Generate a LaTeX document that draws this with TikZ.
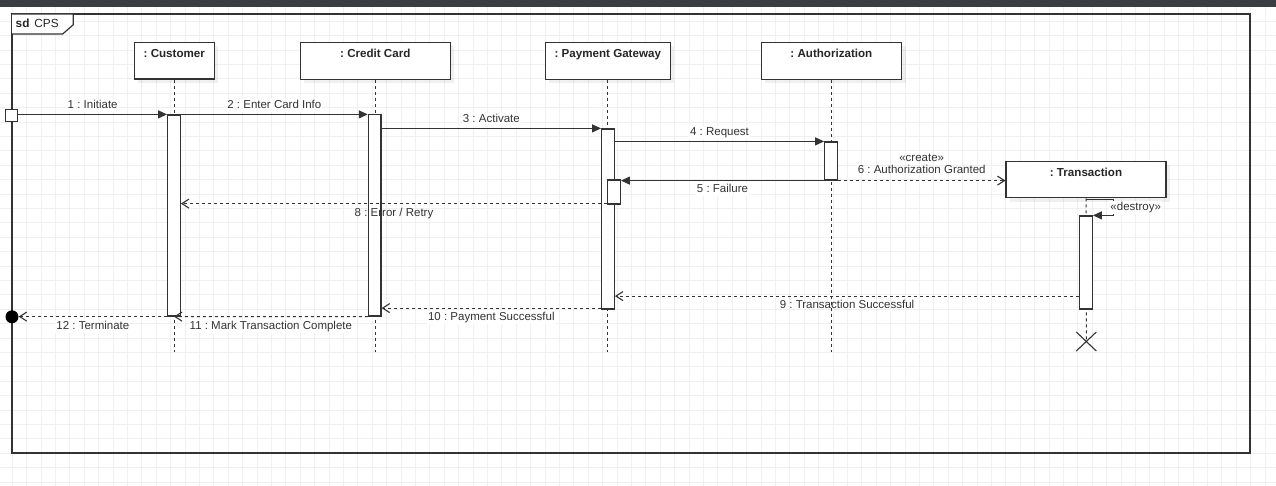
\documentclass[tikz,border=0pt]{standalone}
\usepackage{fontspec}
\setmainfont{Liberation Sans}
\usetikzlibrary{arrows.meta,shapes.misc,shadows}
\frenchspacing

\definecolor{ink}{HTML}{333333}
\definecolor{gridln}{HTML}{F0F0F0}
\definecolor{topbar}{HTML}{3A3D41}

\tikzset{
  gridline/.style={draw=gridln, line width=1pt},
  head/.style={rectangle, draw=ink, line width=1.1pt, fill=white, minimum height=36.7pt,
    inner xsep=2pt, inner ysep=6.8pt, text height=8.4pt, text depth=14.7pt, text=black!85,
    font=\fontsize{11.6}{13}\selectfont\bfseries,
    drop shadow={shadow xshift=4pt, shadow yshift=-4pt, opacity=0.06, fill=black}},
  bar/.style={rectangle, draw=ink, line width=1.2pt, fill=white, minimum width=12.7pt, inner sep=0pt},
  life/.style={draw=ink, line width=1pt, dash pattern=on 3pt off 3pt},
  sync/.style={draw=ink, line width=1.2pt, -{Triangle[length=9pt,width=8pt]}},
  reply/.style={draw=ink, line width=1.1pt, dash pattern=on 3pt off 3pt, -{Straight Barb[length=7pt,width=9pt]}},
  lbl/.style={font=\fontsize{11.5}{12.6}\selectfont, text=ink, text height=8.5pt, text depth=2.5pt, inner sep=1pt},
  lbltwo/.style={font=\fontsize{11.5}{12.6}\selectfont, text=ink, inner sep=1pt, align=center}
}

\begin{document}
\begin{tikzpicture}[x=1pt,y=-1pt]
    \useasboundingbox (0,0) rectangle (1276,486);
    \fill[white] (0,0) rectangle (1276,486);
    \foreach \k in {0,...,89}
      \draw[gridline] ({-2.1+14.4*\k},0) -- ({-2.1+14.4*\k},486);
    \foreach \k in {0,...,33}
      \draw[gridline] (0,{6.9+14.4*\k}) -- (1276,{6.9+14.4*\k});
    \fill[topbar] (0,0) rectangle (1276,6.7);

    \draw[ink,line width=1.3pt] (12,14) rectangle (1250,453);
    \draw[ink,line width=1.2pt,fill=white] (12,14) -- (73.3,14) -- (73.3,24.7) -- (62.7,34) -- (12,34);
    \node[anchor=west,inner sep=0pt,text=black!85,font=\fontsize{11.8}{12.6}\selectfont] (sd) at (15.5,23.5) {\textbf{sd}\hspace{5pt}CPS};

    \node[head,minimum width=80pt] (hC) at (174.3,60.7) {: Customer};
    \node[head,minimum width=150pt] (hCC) at (375.3,60.8) {: Credit Card};
    \node[head,minimum width=125pt] (hPG) at (607.8,60.8) {: Payment Gateway};
    \node[head,minimum width=140.7pt] (hAU) at (831.4,60.8) {: Authorization};
    \node[head,minimum width=160pt,text depth=13.6pt] (TR) at (1086,179.5) {: Transaction};

    \coordinate (eC) at (174.3,352);
    \coordinate (eCC) at (375.3,352);
    \coordinate (ePG) at (607.8,352);
    \coordinate (eAU) at (831.4,352);
    \node[cross out,draw=ink,line width=1.1pt,minimum width=19pt,minimum height=18pt,inner sep=0pt] (xTR) at (1086.3,341.5) {};
    \draw[life] (hC.south) -- (eC);
    \draw[life] (hCC.south) -- (eCC);
    \draw[life] (hPG.south) -- (ePG);
    \draw[life] (hAU.south) -- (eAU);
    \draw[life] (TR.south) -- (xTR.center);

    \node[bar,minimum height=201pt] (bC) at (174,215.5) {};
    \node[bar,minimum height=201.5pt] (bCC) at (374.7,215.3) {};
    \node[bar,minimum height=180pt] (bPG) at (608,219) {};
    \node[bar,minimum height=24pt] (bPG2) at (614,192) {};
    \node[bar,minimum height=38pt] (bAU) at (831,161) {};
    \node[bar,minimum height=93pt] (bTR) at (1086,262.5) {};

    \node[rectangle,draw=ink,line width=1.2pt,fill=white,minimum size=12pt,inner sep=0pt] (start) at (11.7,115.5) {};
    \node[circle,fill=black,minimum size=13pt,inner sep=0pt] (lost) at (12,316.8) {};

    \draw[sync] (start.east |- bC.north west) -- (bC.north west)
      node[lbl,midway,above=1.4pt,fill=white] (l1) {1 : Initiate};
    \draw[sync] (bC.north east) -- (bC.north east -| bCC.west)
      node[lbl,midway,above=1.4pt,fill=white] (l2) {2 : Enter Card Info};
    \draw[sync] (bCC.east |- bPG.north west) -- (bPG.north west)
      node[lbl,midway,above=1.4pt,fill=white] (l3) {3 : Activate};
    \draw[sync] (bPG.east |- bAU.north west) -- (bAU.north west)
      node[lbl,midway,above=1.4pt,fill=white] (l4) {4 : Request};
    \draw[sync] (bAU.south west) -- (bAU.south west -| bPG2.east)
      node[lbl,midway,below=2.2pt,fill=white] (l5) {5 : Failure};
    \draw[reply] (bAU.south east) -- (bAU.south east -| TR.west)
      node[lbltwo,midway,above=5.3pt] (l6) {«create»\\6 : Authorization Granted};
    \draw[sync] ([yshift=-1.5pt]TR.south) -- ++(27.7,0) |- (bTR.north east)
      node[lbl,pos=0.25,xshift=22pt,fill=white] (l7) {«destroy»};
    \draw[reply] ([yshift=1pt]bPG2.south west) -- ([yshift=1pt]bPG2.south west -| bC.east)
      node[lbl,midway,below=3pt] (l8) {8 : Error / Retry};
    \draw[reply] ([yshift=13.5pt]bTR.south west) -- ([yshift=13.5pt]bTR.south west -| bPG.east)
      node[lbl,midway,below=2.6pt] (l9) {9 : Transaction Successful};
    \draw[reply] ([yshift=1.5pt]bPG.south west) -- ([yshift=1.5pt]bPG.south west -| bCC.east)
      node[lbl,midway,below=2.6pt,fill=white] (l10) {10 : Payment Successful};
    \draw[reply] (bCC.south west) -- (bC.south)
      node[lbl,midway,below=3.2pt,fill=white] (l11) {11 : Mark Transaction Complete};
    \draw[reply] (bC.south west) -- (bC.south west -| lost.east)
      node[lbl,midway,below=2.6pt,fill=white] (l12) {12 : Terminate};
  \end{tikzpicture}
\end{document}
